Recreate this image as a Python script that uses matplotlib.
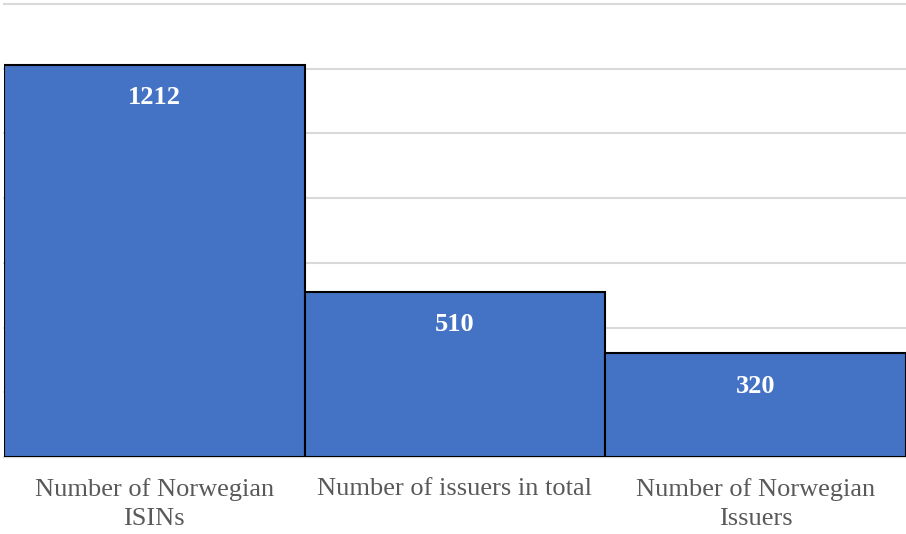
"""Bar chart of Norwegian ISINs and issuers"""

import matplotlib
matplotlib.use('Agg')
from matplotlib import pyplot as plt

# Data
categories = ['Number of Norwegian\nISINs', 'Number of issuers in total',
              'Number of Norwegian\nIssuers']
counts = [1212, 510, 320]
grid_ticks = [0, 200, 400, 600, 800, 1000, 1200, 1400]

plt.rcParams['font.family'] = ['Liberation Serif', 'DejaVu Serif']

fig = plt.figure(figsize=(9.06, 5.34), dpi=100)
ax = fig.add_axes([4 / 906, 77 / 534, 902 / 906, 453 / 534])

# Bars fill the full category slot, no gaps
xpos = list(range(len(counts)))
ax.bar(xpos, counts, width=1.0, color='#4472C4', edgecolor='black',
       linewidth=1.5, zorder=3)

# Value labels just inside the bar tops
for x, v in zip(xpos, counts):
    ax.annotate(str(v), xy=(x, v), xytext=(0, -33), textcoords='offset pixels',
                ha='center', va='center', color='white', fontweight='bold',
                fontsize=19, zorder=4)

ax.set_xlim(-0.5, len(counts) - 0.5)
ax.set_ylim(0, 1400)
ax.set_yticks(grid_ticks)
ax.yaxis.grid(True, color='#d9d9d9', linewidth=1.5, zorder=0)
ax.tick_params(axis='y', left=False, labelleft=False)

ax.set_xticks(xpos)
ax.set_xticklabels(categories, fontsize=19, color='#595959', linespacing=1.4)
ax.tick_params(axis='x', length=0, pad=15)

for side in ['top', 'left', 'right']:
    ax.spines[side].set_visible(False)
ax.spines['bottom'].set_color('#d9d9d9')
ax.spines['bottom'].set_linewidth(1.5)
# keep the 1400 gridline visible at the top edge
for line in ax.get_ygridlines():
    line.set_clip_on(False)

fig.savefig('out.png', dpi=100)
